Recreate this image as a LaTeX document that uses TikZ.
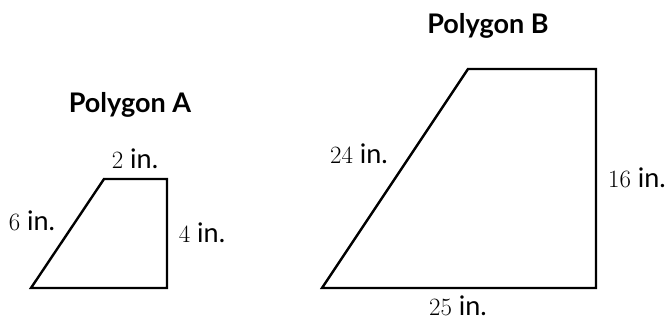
\documentclass[tikz,border=0pt]{standalone}
\usepackage{fontspec}
\setmainfont{Lato}
\tikzset{
  side/.style={line width=2.4pt, line join=miter},
  len/.style={font=\fontsize{27}{30}\selectfont, inner sep=0pt, anchor=base},
  title/.style={font=\fontsize{27}{30}\selectfont\bfseries, inner sep=0pt, anchor=base}
}
\begin{document}
\begin{tikzpicture}[x=1pt, y=-1pt]
    \useasboundingbox (0, 0) rectangle (671, 321);
    % Polygon A
    \coordinate (a1) at (31, 288);
    \coordinate (a2) at (167, 288);
    \coordinate (a3) at (167, 179);
    \coordinate (a4) at (104, 179);
    \draw[side] (a1) -- (a2) -- (a3) -- (a4) -- cycle;
    \node[title] (tA) at (130, 112) {Polygon A};
    \node[len] (lA1) at (135, 168) {$2$ in.};
    \node[len] (lA2) at (32, 230) {$6$ in.};
    \node[len] (lA3) at (202, 242) {$4$ in.};
    % Polygon B
    \coordinate (b1) at (322, 288);
    \coordinate (b2) at (596, 288);
    \coordinate (b3) at (596, 69);
    \coordinate (b4) at (468, 69);
    \draw[side] (b1) -- (b2) -- (b3) -- (b4) -- cycle;
    \node[title] (tB) at (488, 34) {Polygon B};
    \node[len] (lB1) at (359, 163) {$24$ in.};
    \node[len] (lB2) at (637, 187) {$16$ in.};
    \node[len] (lB3) at (458, 315) {$25$ in.};
\end{tikzpicture}
\end{document}
